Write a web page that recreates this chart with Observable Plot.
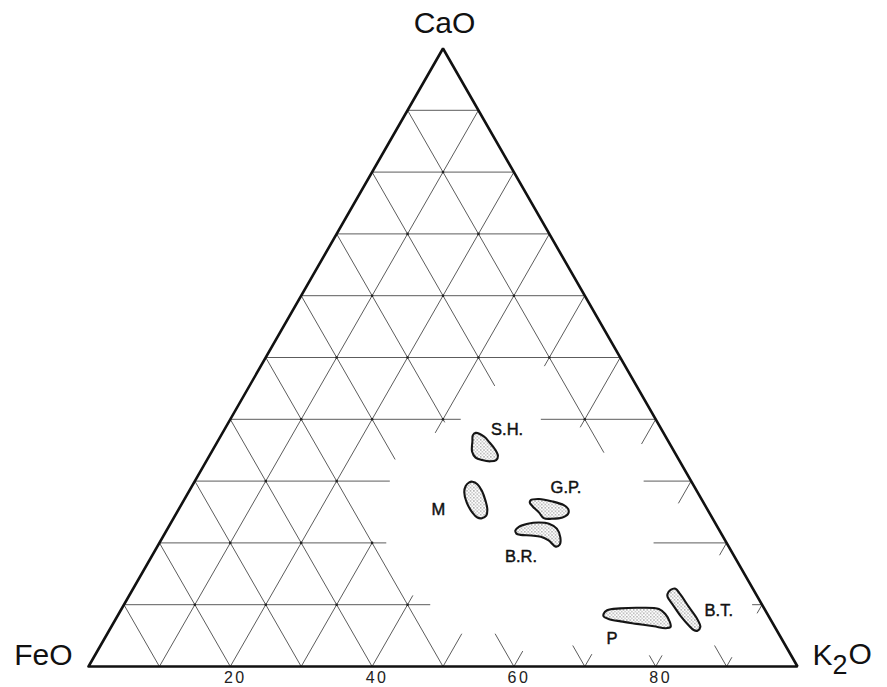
<!DOCTYPE html>
<html><head><meta charset="utf-8">
<script src="https://cdn.jsdelivr.net/npm/d3@7"></script>
<script src="https://cdn.jsdelivr.net/npm/@observablehq/plot@0.6"></script>
<style>
body{margin:0;background:#fff}
svg{display:block}
</style>
</head><body><div id="chart"></div>
<script>
// ---- data (ternary percentages: K2O, CaO; FeO = 100 - K2O - CaO) ----
const vertexNames = ["CaO", "FeO", "K2O"];
const vertexK2O = [0, 0, 100];
const vertexCaO = [100, 0, 0];
const axisTicks = [20, 40, 60, 80];

// horizontal grid lines: [CaO value, K2O from, K2O to]
const gridCaO = [[90,0,10],[80,0,20],[70,0,30],[60,0,40],[50,0,50],
  [40,0,32.5],[40,43.8,60],[30,0,27.5],[30,63.3,70],[20,0,32],[20,69.7,80],[10,0,43.2],[10,88.6,90]];
// constant K2O lines: [K2O value, CaO from, CaO to]
const gridK2O = [[10,0,90],[20,0,80],[30,0,20],[30,37.8,70],[40,0,11.5],[40,48.6,60],
  [50,0,5.3],[50,38.7,50],[60,0,2.5],[60,36,40],[70,0,2],[70,26.4,30],[80,0,1.8],[80,18,20],[90,0,1.5],[90,8.6,10]];
// constant FeO lines: [FeO value, CaO from, CaO to]
const gridFeO = [[90,0,10],[80,0,20],[70,0,30],[60,0,40],[50,0,50],[40,0,5.3],[40,33.5,60],
  [30,0,3.4],[30,39.5,70],[20,0,1.8],[20,45.4,80],[10,0,3.4],[10,34.6,90]];

// fields: outlines as [K2O, CaO]
const fieldNames = ["S.H.", "M", "G.P.", "B.R.", "P", "B.T."];
const fieldSH = [[35.7,37.8],[37.2,37.2],[38.5,36.2],[39.7,35.2],[40.7,34.1],[40.8,33.4],[40.1,33.2],[38.8,33.4],[37.7,33.8],[36.7,34.8],[35.9,36.5],[35.5,37.4]];
const fieldM = [[39.2,29.9],[40.1,29.5],[41.3,28.4],[42.6,26.8],[43.5,25.5],[43.9,24.4],[43.5,24.0],[42.8,24.1],[41.7,24.9],[40.1,26.5],[38.9,28.2],[38.6,29.2],[38.8,29.8]];
const fieldGP = [[48.9,26.9],[50.0,27.1],[52.1,26.7],[54.0,26.1],[54.9,25.5],[55.3,24.7],[54.8,24.1],[53.4,23.9],[52.2,24.0],[51.1,24.9],[49.7,25.9],[49.0,26.5]];
const fieldBR = [[49.2,22.0],[49.4,22.6],[50.4,23.1],[51.9,23.3],[53.4,23.1],[54.9,22.3],[56.1,20.9],[56.6,19.7],[56.2,19.4],[54.7,20.4],[53.3,21.0],[51.8,21.2],[50.3,21.3],[49.6,21.5]];
const fieldP = [[68.4,8.5],[68.6,9.1],[70.3,9.4],[73.1,9.5],[75.8,9.3],[77.1,8.5],[78.4,7.2],[78.9,6.4],[78.3,6.2],[76.5,6.5],[73.9,6.9],[71.4,7.3],[69.5,7.7],[68.6,8.1]];
const fieldBT = [[75.8,11.7],[75.9,12.4],[76.5,12.6],[77.6,11.7],[79.9,9.6],[82.0,7.7],[83.1,6.4],[83.0,5.8],[82.4,5.9],[81.4,6.6],[79.4,8.2],[77.3,10.1],[76.1,11.2]];
const fieldLabelK2O = [39.9, 36.7, 52.9, 52.1, 71.6, 84.4];
const fieldLabelCaO = [38.3, 25.3, 28.9, 17.8, 4.5, 9.0];

// ---- build tables ----
const tx = (k, c) => k + c / 2;
const segs = [];
gridCaO.forEach(([v, a, b]) => segs.push({k1: a, c1: v, k2: b, c2: v}));
gridK2O.forEach(([v, a, b]) => segs.push({k1: v, c1: a, k2: v, c2: b}));
gridFeO.forEach(([v, a, b]) => segs.push({k1: 100 - v - a, c1: a, k2: 100 - v - b, c2: b}));

// intersection nodes of drawn lines
const covers = (arr, v, t) => arr.some(([w, a, b]) => w === v && t >= a - 0.01 && t <= b + 0.01);
const nodes = [];
for (let k = 10; k < 100; k += 10) for (let c = 10; k + c < 100; c += 10) {
  const n = (covers(gridCaO, c, k) ? 1 : 0) + (covers(gridK2O, k, c) ? 1 : 0) + (covers(gridFeO, 100 - k - c, c) ? 1 : 0);
  if (n >= 2) nodes.push({k, c});
}

const fieldPts = [];
[fieldSH, fieldM, fieldGP, fieldBR, fieldP, fieldBT].forEach((f, i) =>
  f.forEach(([k, c]) => fieldPts.push({name: fieldNames[i], k, c})));
const fieldLabels = fieldNames.map((n, i) => ({name: n, k: fieldLabelK2O[i], c: fieldLabelCaO[i]}));
const outline = [[0,0],[100,0],[0,100],[0,0]].map(([k, c]) => ({k, c}));
const verts = vertexNames.map((n, i) => ({name: n, k: vertexK2O[i], c: vertexCaO[i]}));
const ticks = axisTicks.map(t => ({t}));

const font = "'Liberation Sans', Arial, sans-serif";

const chart = Plot.plot({
  width: 887, height: 687,
  marginLeft: 88, marginRight: 90, marginTop: 48, marginBottom: 21,
  x: {domain: [0, 100], axis: null},
  y: {domain: [0, 100], axis: null},
  style: {fontFamily: font, background: "#fff", overflow: "visible"},
  marks: [
    Plot.link(segs, {x1: d => tx(d.k1, d.c1), y1: "c1", x2: d => tx(d.k2, d.c2), y2: "c2",
      stroke: "#4a4a4a", strokeWidth: 0.9}),
    Plot.dot(nodes, {x: d => tx(d.k, d.c), y: "c", r: 1.3, fill: "#222", stroke: "none"}),
    Plot.line(outline, {x: d => tx(d.k, d.c), y: "c", stroke: "#111", strokeWidth: 2.6, strokeLinejoin: "miter"}),
    Plot.line(fieldPts, {x: d => tx(d.k, d.c), y: "c", z: "name", curve: "catmull-rom-closed",
      fill: "url(#stipple)", stroke: "#151515", strokeWidth: 2.1}),
    Plot.text(fieldLabels, {x: d => tx(d.k, d.c), y: "c", text: "name", fontSize: 16.5, fill: "#111",
      stroke: "#111", strokeWidth: 0.45}),
    Plot.text(verts.filter(d => d.name === "CaO"), {x: d => tx(d.k, d.c), y: "c", text: "name",
      fontSize: 30, dx: 1.5, dy: -25, fill: "#111", style: "letter-spacing:1px"}),
    Plot.text(verts.filter(d => d.name === "FeO"), {x: d => tx(d.k, d.c), y: "c", text: "name",
      fontSize: 30, dx: -16, dy: -11, textAnchor: "end", fill: "#111", style: "letter-spacing:3px"}),
    Plot.text(verts.filter(d => d.name === "K2O"), {x: d => tx(d.k, d.c), y: "c", text: "name",
      fontSize: 30, dx: 15, dy: -11, textAnchor: "start", fill: "#111"}),
    Plot.text(ticks, {x: d => tx(d.t, 0), y: () => 0, text: d => String(d.t), fontSize: 16, dx: 5, dy: 11, fill: "#222"})
  ]
});

// stipple pattern
const svg = d3.select(chart);
const defs = svg.insert("defs", ":first-child");
const pat = defs.append("pattern").attr("id", "stipple").attr("patternUnits", "userSpaceOnUse")
  .attr("width", 3.4).attr("height", 3.4);
pat.append("rect").attr("width", 3.4).attr("height", 3.4).attr("fill", "#fff");
pat.append("circle").attr("cx", 0.8).attr("cy", 0.8).attr("r", 0.55).attr("fill", "#333");
pat.append("circle").attr("cx", 2.5).attr("cy", 2.5).attr("r", 0.5).attr("fill", "#555");

// full-size lowered 2 in K2O, letter spacing on tick labels
svg.selectAll("text").each(function() {
  if (this.textContent === "K2O") {
    const t = d3.select(this); t.text("");
    t.append("tspan").text("K");
    t.append("tspan").attr("dy", "0.34em").attr("dx", 0).attr("font-size", 27).text("2");
    t.append("tspan").attr("dy", "-0.34em").attr("dx", 1).text("O");
  }
  if (["20","40","60","80"].includes(this.textContent)) d3.select(this).style("letter-spacing", "2.5px");
});

document.getElementById("chart").appendChild(chart);
</script>
</body></html>
